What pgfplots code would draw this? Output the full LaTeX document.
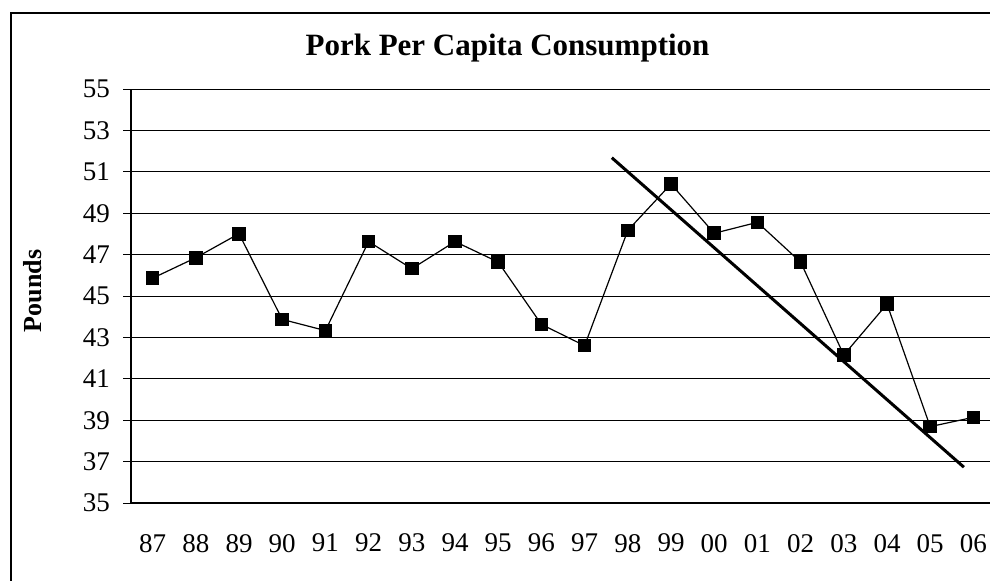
\documentclass[border=0pt]{standalone}
\usepackage{pgfplots}
\pgfplotsset{compat=1.18}
\usepackage{fontspec}
\setmainfont{Liberation Serif}
\begin{document}
\begin{tikzpicture}
\clip (0,0) rectangle (495pt,-290pt);
\draw[line width=0.8pt] (5.5pt,-300pt) -- (5.5pt,-6.5pt) -- (505pt,-6.5pt);
\node[anchor=base] at (253.75pt,-27.5pt) {\fontsize{15.5}{18}\selectfont\bfseries Pork Per Capita Consumption};
\node[rotate=90] at (16.5pt,-145.5pt) {\fontsize{13}{15}\selectfont\bfseries Pounds};
\begin{axis}[
  at={(65.5pt,-251.5pt)}, anchor=south west,
  scale only axis, width=432pt, height=207pt,
  xmin=-0.5, xmax=19.5, ymin=35, ymax=55,
  axis lines=left, axis line style={-, line width=0.6pt},
  ytick={35,37,...,55},
  xtick={0,...,19},
  xticklabels={87,88,89,90,91,92,93,94,95,96,97,98,99,00,01,02,03,04,05,06},
  minor xtick={-0.5,0.5,...,19.5},
  tick align=outside,
  major tick length=4pt, minor tick length=4pt,
  xtick style={draw=none},
  minor x tick style={black, line width=0.5pt},
  ytick style={black, line width=0.5pt},
  ymajorgrids, major grid style={black, line width=0.5pt},
  /pgf/number format/assume math mode=true,
  ticklabel style={font=\fontsize{13.5}{15}\selectfont},
  yticklabel style={xshift=-3pt},
  xticklabel style={yshift=-8pt},
  clip=false,
]
\addplot[black, line width=0.6pt, mark=square*, mark size=3.1pt, mark options={solid}] coordinates {
(0,45.86) (1,46.85) (2,48.01) (3,43.87) (4,43.33) (5,47.63) (6,46.32) (7,47.63) (8,46.64) (9,43.63)
(10,42.6) (11,48.17) (12,50.41) (13,48.03) (14,48.56) (15,46.64) (16,42.15) (17,44.61) (18,38.69) (19,39.14)
};
\addplot[black, line width=1.5pt] coordinates {(10.63,51.68) (18.78,36.73)};
\end{axis}
\end{tikzpicture}
\end{document}
